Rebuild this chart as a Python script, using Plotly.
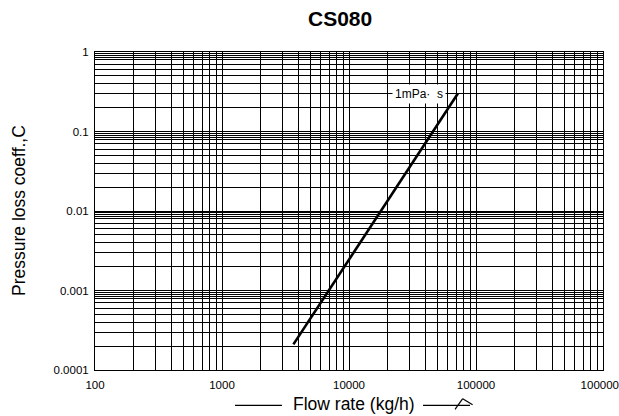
import math
import plotly.graph_objects as go

# Pressure-loss curve for 1 mPa·s fluid
flow_kgh = [3650, 17800, 72000]
loss_coeff = [0.00021, 0.01, 0.30]
curve_label = "1mPa·\u00a0\u00a0s"

# Axis decades and labels
x_decades = [100, 1000, 10000, 100000, 1000000]
x_tick_text = ["100", "1000", "10000", "100000", "1000000"]
y_decades = [0.0001, 0.001, 0.01, 0.1, 1]
y_tick_text = ["0.0001", "0.001", "0.01", "0.1", "1"]

# Sub-decade grid steps
x_minor_steps = [2, 3, 4, 5, 6, 7, 8, 9]
y_minor_steps = [2, 3, 4, 5, 6, 7, 8, 8.5, 9, 9.5]

x_minor = [m * d for d in x_decades[:-1] for m in x_minor_steps]
y_minor = [m * d for d in y_decades[:-1] for m in y_minor_steps]

FONT = "Liberation Sans, Arial, Helvetica, sans-serif"
INK = "black"

fig = go.Figure()
fig.add_trace(go.Scatter(
    x=flow_kgh, y=loss_coeff, mode="lines",
    line=dict(color=INK, width=2.6), showlegend=False, hoverinfo="skip",
))

axis_common = dict(
    type="log", showgrid=True, gridcolor=INK, gridwidth=1,
    showline=True, linecolor=INK, linewidth=1, mirror=True,
    ticks="", zeroline=False, tickmode="array",
    ticklabeloverflow="allow", automargin=False,
    tickfont=dict(family=FONT, size=11.5, color=INK),
)

fig.update_xaxes(
    **axis_common, range=[2, 6],
    tickvals=x_decades, ticktext=x_tick_text, ticklabelstandoff=4,
    minor=dict(tickmode="array", tickvals=x_minor, showgrid=True,
               gridcolor=INK, gridwidth=1, ticks=""),
)
fig.update_yaxes(
    **axis_common, range=[-4, 0],
    tickvals=y_decades, ticktext=y_tick_text, ticklabelstandoff=3,
    minor=dict(tickmode="array", tickvals=y_minor, showgrid=True,
               gridcolor=INK, gridwidth=1, ticks=""),
)

annotations = [
    dict(text="<b>CS080</b>", x=0.482, y=1.105, xref="paper", yref="paper",
         xanchor="center", yanchor="middle", showarrow=False,
         font=dict(family=FONT, size=21, color=INK)),
    dict(text="Pressure loss coeff.,C", x=-0.1496, y=0.5, xref="paper", yref="paper",
         xanchor="center", yanchor="middle", textangle=-90, showarrow=False,
         font=dict(family=FONT, size=17.5, color=INK)),
    dict(text="Flow rate (kg/h)", x=0.509, y=-0.107, xref="paper", yref="paper",
         xanchor="center", yanchor="middle", showarrow=False,
         font=dict(family=FONT, size=17.5, color=INK)),
    dict(text=curve_label, x=math.log10(flow_kgh[-1]), y=math.log10(loss_coeff[-1]),
         xref="x", yref="y", xanchor="right", yanchor="middle", xshift=-12,
         showarrow=False, bgcolor="white", borderpad=2,
         font=dict(family=FONT, size=12, color=INK)),
]

# Decorative strokes flanking the x-axis title
stroke = dict(type="line", xref="paper", yref="paper", line=dict(color=INK, width=1.2))
shapes = [
    dict(stroke, x0=0.2756, x1=0.368, y0=-0.111, y1=-0.111),
    dict(stroke, x0=0.6457, x1=0.7382, y0=-0.111, y1=-0.111),
    dict(stroke, x0=0.7087, x1=0.7238, y0=-0.1236, y1=-0.0903),
    dict(stroke, x0=0.7238, x1=0.7433, y0=-0.0903, y1=-0.1091),
]

fig.update_layout(
    width=619, height=416,
    margin=dict(l=95, r=16, t=52, b=46, autoexpand=False),
    paper_bgcolor="white", plot_bgcolor="white",
    font=dict(family=FONT, color=INK),
    annotations=annotations, shapes=shapes,
    showlegend=False,
)

fig.write_html("out.html")
